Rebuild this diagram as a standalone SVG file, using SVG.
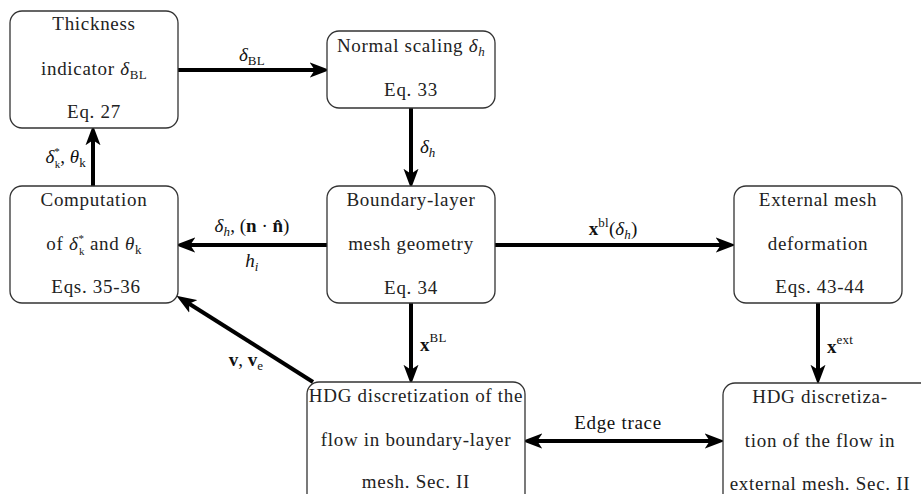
<svg xmlns="http://www.w3.org/2000/svg" width="921" height="494" viewBox="0 0 921 494">
<style>
.box{fill:#fff;stroke:#333;stroke-width:1.3}
.t{font-family:"Liberation Serif","DejaVu Serif",serif;font-size:19px;letter-spacing:0.7px;fill:#222;text-anchor:middle}
.l{font-family:"Liberation Serif","DejaVu Serif",serif;font-size:19px;fill:#111}
.conn{stroke:#000;stroke-width:4;fill:none}
.it{font-style:italic}
.b{font-weight:bold}
.s{font-size:13px;letter-spacing:0.3px}
.ss{font-size:11px;letter-spacing:0}
</style>
<defs>
<marker id="ah" markerUnits="userSpaceOnUse" markerWidth="20" markerHeight="16" viewBox="0 0 16 12" refX="5" refY="6" orient="auto-start-reverse">
<path d="M0,0 L16,6 L0,12 L4,6 z" fill="#000"/>
</marker>
</defs>
<g id="connectors">
<path class="conn" d="M178,70 H316" marker-end="url(#ah)"/>
<path class="conn" d="M411,108 V175" marker-end="url(#ah)"/>
<path class="conn" d="M495,245 H722" marker-end="url(#ah)"/>
<path class="conn" d="M327,245 H189" marker-end="url(#ah)"/>
<path class="conn" d="M93,186 V139" marker-end="url(#ah)"/>
<path class="conn" d="M411,303 V371" marker-end="url(#ah)"/>
<path class="conn" d="M818,303 V371" marker-end="url(#ah)"/>
<path class="conn" d="M536,441 H711" marker-start="url(#ah)" marker-end="url(#ah)"/>
<path class="conn" d="M313,382 L188,303" marker-end="url(#ah)"/>
<text class="l" x="252" y="61" text-anchor="middle"><tspan class="it">δ</tspan><tspan class="s" dy="4">BL</tspan></text>
<text class="l" x="420" y="153"><tspan class="it">δ</tspan><tspan class="s it" dy="4">h</tspan></text>
<text class="l" x="613" y="235" text-anchor="middle"><tspan class="b">x</tspan><tspan class="s" dy="-8">bl</tspan><tspan dy="8">(</tspan><tspan class="it">δ</tspan><tspan class="s it" dy="4">h</tspan><tspan dy="-4">)</tspan></text>
<text class="l" x="252" y="232" text-anchor="middle"><tspan class="it">δ</tspan><tspan class="s it" dy="4">h</tspan><tspan dy="-4">, (</tspan><tspan class="b">n</tspan> · <tspan class="b">n̂</tspan>)</text>
<text class="l it" x="252" y="267" text-anchor="middle">h<tspan class="s" dy="4">i</tspan></text>
<text class="l" x="86" y="163" text-anchor="end"><tspan class="it">δ</tspan><tspan class="ss" dy="-8">*</tspan><tspan class="ss" dx="-5" dy="13">k</tspan><tspan dy="-5">, </tspan><tspan class="it">θ</tspan><tspan class="s" dy="4">k</tspan></text>
<text class="l" x="420" y="351"><tspan class="b">x</tspan><tspan class="s" dy="-9">BL</tspan></text>
<text class="l" x="827" y="353"><tspan class="b">x</tspan><tspan class="s" dy="-9">ext</tspan></text>
<text class="l" x="246" y="366" text-anchor="middle"><tspan class="b">v</tspan>, <tspan class="b">v</tspan><tspan class="s" dy="4">e</tspan></text>
<text class="l" x="618" y="429" text-anchor="middle" letter-spacing="0.7">Edge trace</text>
</g>
<g id="thickness">
<rect class="box" x="10" y="11" width="168" height="117" rx="12"/>
<text class="t" x="94" y="30">Thickness</text>
<text class="t" x="94" y="75">indicator  <tspan class="it">δ</tspan><tspan class="s" dy="4">BL</tspan></text>
<text class="t" x="94" y="118">Eq. 27</text>
</g>
<g id="normal-scaling">
<rect class="box" x="327" y="31" width="168" height="77" rx="12"/>
<text class="t" x="411" y="52">Normal scaling  <tspan class="it">δ</tspan><tspan class="s it" dy="4">h</tspan></text>
<text class="t" x="411" y="96">Eq. 33</text>
</g>
<g id="bl-geometry">
<rect class="box" x="327" y="186" width="168" height="117" rx="12"/>
<text class="t" x="411" y="206">Boundary-layer</text>
<text class="t" x="411" y="250">mesh geometry</text>
<text class="t" x="411" y="294">Eq. 34</text>
</g>
<g id="computation">
<rect class="box" x="10" y="186" width="168" height="117" rx="12"/>
<text class="t" x="94" y="206">Computation</text>
<text class="t" x="94" y="250">of <tspan class="it">δ</tspan><tspan class="ss" dy="-8">*</tspan><tspan class="ss" dx="-5" dy="13">k</tspan><tspan dy="-5"> and </tspan><tspan class="it">θ</tspan><tspan class="s" dy="4">k</tspan></text>
<text class="t" x="96" y="293">Eqs. 35-36</text>
</g>
<g id="external-deformation">
<rect class="box" x="734" y="186" width="168" height="117" rx="12"/>
<text class="t" x="818" y="206">External mesh</text>
<text class="t" x="818" y="250">deformation</text>
<text class="t" x="820" y="293">Eqs. 43-44</text>
</g>
<g id="hdg-bl">
<rect class="box" x="307" y="382" width="218" height="130" rx="12"/>
<text class="t" x="416" y="402">HDG discretization of the</text>
<text class="t" x="416" y="446">flow in boundary-layer</text>
<text class="t" x="416" y="488">mesh. Sec. II</text>
</g>
<g id="hdg-ext">
<rect class="box" x="723" y="383" width="210" height="130" rx="12"/>
<text class="t" x="820" y="403">HDG discretiza-</text>
<text class="t" x="820" y="447">tion of the flow in</text>
<text class="t" x="820" y="490">external mesh. Sec. II</text>
</g>
</svg>
